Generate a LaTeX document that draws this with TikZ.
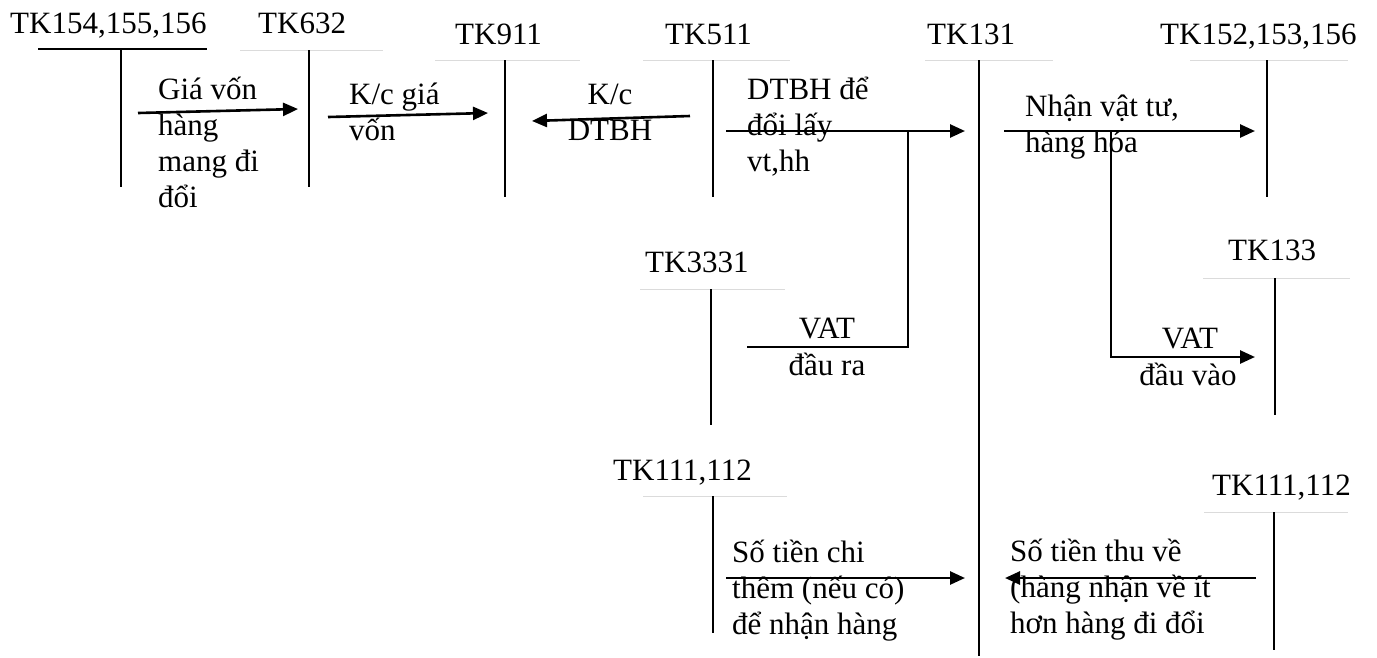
\documentclass[tikz,border=0pt]{standalone}
\usepackage{fontspec}
\setmainfont{Liberation Serif}
\usetikzlibrary{arrows.meta}
\begin{document}
\begin{tikzpicture}[x=1pt,y=-1pt,
  % multi-line texts are placed by the baseline of their last line
  txt/.style={font=\fontsize{31}{36}\selectfont, inner sep=0pt, anchor=base west, align=left},
  ctxt/.style={font=\fontsize{31}{36}\selectfont, inner sep=0pt, anchor=base, align=center},
  rule/.style={draw=black!14, line width=1pt},
  acct/.style={draw=black, line width=2pt},
  flow/.style={draw=black, line width=2.6pt, -{Triangle[length=15pt,width=13pt]}},
  link/.style={draw=black, line width=2.2pt}]
\path[use as bounding box] (0,0) rectangle (1377,657);

% account titles
\node[txt] (k154) at (10,33) {TK154,155,156};
\node[txt] (k632) at (258,33) {TK632};
\node[txt] (k911) at (455,44) {TK911};
\node[txt] (k511) at (665,44) {TK511};
\node[txt] (k131) at (927,44) {TK131};
\node[txt] (k152) at (1160,44) {TK152,153,156};
\node[txt] (k3331) at (645,272) {TK3331};
\node[txt] (k133) at (1228,260) {TK133};
\node[txt] (k111a) at (613,480) {TK111,112};
\node[txt] (k111b) at (1212,495) {TK111,112};

% T-account rules and columns
\draw[acct] (38,49) -- (207,49);
\coordinate (c154t) at (121,49);  \coordinate (c154b) at (121,187);
\draw[rule] (240,50) -- (383,50);
\coordinate (c632t) at (309,50);  \coordinate (c632b) at (309,187);
\draw[rule] (435,60) -- (580,60);
\coordinate (c911t) at (505,60);  \coordinate (c911b) at (505,197);
\draw[rule] (643,60) -- (790,60);
\coordinate (c511t) at (713,60);  \coordinate (c511b) at (713,197);
\draw[rule] (925,60) -- (1053,60);
\coordinate (c131t) at (979,60);  \coordinate (c131b) at (979,656);
\draw[rule] (1190,60) -- (1348,60);
\coordinate (c152t) at (1267,60); \coordinate (c152b) at (1267,197);
\draw[rule] (640,289) -- (785,289);
\coordinate (c3331t) at (711,289); \coordinate (c3331b) at (711,425);
\draw[rule] (1203,278) -- (1350,278);
\coordinate (c133t) at (1275,278); \coordinate (c133b) at (1275,415);
\draw[rule] (643,496) -- (787,496);
\coordinate (c111at) at (713,496); \coordinate (c111ab) at (713,633);
\draw[rule] (1204,512) -- (1348,512);
\coordinate (c111bt) at (1274,512); \coordinate (c111bb) at (1274,650);

\foreach \a in {154,632,911,511,131,152,3331,133,111a,111b}
  \draw[acct] (c\a t) -- (c\a b);

% entries
\coordinate (a1s) at (138,113);  \coordinate (a1e) at (298,109);
\coordinate (a2s) at (328,117);  \coordinate (a2e) at (488,113);
\coordinate (a3s) at (690,116);  \coordinate (a3e) at (532,121);
\coordinate (a4s) at (726,131);  \coordinate (a4e) at (965,131);
\coordinate (v1t) at (908,131);  \coordinate (v1b) at (908,347);
\coordinate (v1e) at (747,347);
\coordinate (a5s) at (1004,131); \coordinate (a5e) at (1255,131);
\coordinate (v2t) at (1111,131); \coordinate (v2b) at (1111,357);
\coordinate (v2e) at (1255,357);
\coordinate (a6s) at (726,578);  \coordinate (a6e) at (965,578);
\coordinate (a7s) at (1256,578); \coordinate (a7e) at (1005,578);

\draw[flow] (a1s) -- (a1e);
\draw[flow] (a2s) -- (a2e);
\draw[flow] (a3s) -- (a3e);
\draw[flow] (a4s) -- (a4e);
\draw[link] (v1e) -- (v1b) -- (v1t);
\draw[flow] (a5s) -- (a5e);
\draw[flow] (v2t) -- (v2b) -- (v2e);
\draw[flow] (a6s) -- (a6e);
\draw[flow] (a7s) -- (a7e);

% entry texts
\node[txt] (t1) at (158,207) {Giá vốn\\hàng\\mang đi\\đổi};
\node[txt] (t2) at (349,140) {K/c giá\\vốn};
\node[ctxt] (t3) at (610,140) {K/c\\DTBH};
\node[txt] (t4) at (747,171) {DTBH để\\đổi lấy\\vt,hh};
\node[txt] (t5) at (1025,152) {Nhận vật tư,\\hàng hóa};
\node[ctxt] (t6) at (827,338) {VAT};
\node[ctxt] (t6b) at (827,375) {đầu ra};
\node[ctxt] (t7) at (1190,348) {VAT};
\node[ctxt] (t7b) at (1188,385) {đầu vào};
\node[txt] (t8) at (732,634) {Số tiền chi\\thêm (nếu có)\\để nhận hàng};
\node[txt] (t9) at (1010,633) {Số tiền thu về\\(hàng nhận về ít\\hơn hàng đi đổi};
\end{tikzpicture}
\end{document}
